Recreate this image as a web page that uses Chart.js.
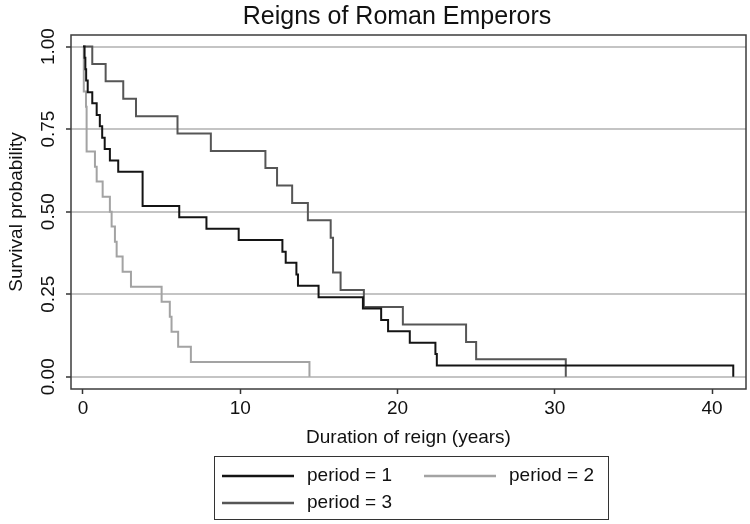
<!DOCTYPE html>
<html>
<head>
<meta charset="utf-8">
<title>Reigns of Roman Emperors</title>
<script src="https://cdn.jsdelivr.net/npm/chart.js@4.4.1/dist/chart.umd.min.js"></script>
<style>
  html, body { margin: 0; padding: 0; background: #fff; }
</style>
</head>
<body>
<canvas id="chart-reinados" width="750" height="524"></canvas>
<script>
const chartTitle = 'Reigns of Roman Emperors';
const xTitle = 'Duration of reign (years)';
const yTitle = 'Survival probability';

const xTicks = [0, 10, 20, 30, 40];
const yTicks = [0, 0.25, 0.5, 0.75, 1];
const yTickLabels = ['0.00', '0.25', '0.50', '0.75', '1.00'];

const seriesNames = ['period = 1', 'period = 2', 'period = 3'];
const seriesColors = ['#141414', '#a3a3a3', '#565656'];

// Kaplan-Meier steps: time of each drop and level after it
const period1Years = [0, 0.1, 0.15, 0.2, 0.3, 0.59, 0.87, 1.07, 1.22, 1.38, 1.71, 2.24, 3.79, 6.12, 7.85, 9.9, 12.68, 12.89, 13.57, 13.67, 14.98, 17.8, 18.96, 19.4, 20.78, 22.41, 22.5, 41.35];
const period1Surv  = [1, 0.966, 0.931, 0.897, 0.862, 0.828, 0.793, 0.759, 0.724, 0.690, 0.655, 0.621, 0.517, 0.483, 0.448, 0.414, 0.379, 0.345, 0.310, 0.276, 0.241, 0.207, 0.172, 0.138, 0.103, 0.069, 0.034, 0];

const period2Years = [0, 0.05, 0.19, 0.23, 0.76, 0.87, 1.25, 1.71, 1.82, 2.03, 2.14, 2.52, 3.05, 5.0, 5.52, 5.63, 6.05, 6.86, 14.4];
const period2Surv  = [1, 0.864, 0.818, 0.682, 0.636, 0.591, 0.545, 0.5, 0.455, 0.409, 0.364, 0.318, 0.273, 0.227, 0.182, 0.136, 0.091, 0.045, 0];

const period3Years = [0, 0.59, 1.44, 2.56, 3.37, 6.01, 8.13, 11.6, 12.34, 13.3, 14.3, 15.75, 15.9, 16.38, 17.86, 20.34, 24.36, 25.0, 30.7];
const period3Surv  = [1, 0.947, 0.895, 0.842, 0.789, 0.737, 0.684, 0.632, 0.579, 0.526, 0.474, 0.421, 0.316, 0.263, 0.211, 0.158, 0.105, 0.053, 0];

const FONT = '"Liberation Sans", Arial, Helvetica, sans-serif';
Chart.defaults.font.family = FONT;
Chart.defaults.color = '#111';

function toPoints(years, surv) {
  return years.map((t, i) => ({ x: t, y: surv[i] }));
}

// frame, title, rotated y labels and boxed legend
const extras = {
  id: 'extras',
  afterDraw(chart) {
    const { ctx, chartArea: a, scales } = chart;
    ctx.save();

    ctx.strokeStyle = '#3c3c3c';
    ctx.lineWidth = 1.5;
    ctx.strokeRect(a.left, a.top, a.right - a.left, a.bottom - a.top);

    ctx.fillStyle = '#111';
    ctx.textAlign = 'center';
    ctx.textBaseline = 'middle';
    ctx.font = '25px ' + FONT;
    ctx.fillText(chartTitle, 397, 17);

    ctx.font = '19px ' + FONT;
    yTicks.forEach((v, i) => {
      const y = scales.y.getPixelForValue(v);
      ctx.save();
      ctx.translate(49, y);
      ctx.rotate(-Math.PI / 2);
      ctx.fillText(yTickLabels[i], 0, 0);
      ctx.restore();
    });

    // legend
    ctx.strokeStyle = '#333';
    ctx.lineWidth = 1;
    ctx.strokeRect(214.5, 456.5, 394, 63);
    const colX = [222, 424];
    const rowY = [476, 503];
    ctx.textAlign = 'left';
    chart.data.datasets.forEach((ds, i) => {
      const x = colX[i % 2];
      const y = rowY[Math.floor(i / 2)];
      ctx.strokeStyle = ds.borderColor;
      ctx.lineWidth = 2.5;
      ctx.beginPath();
      ctx.moveTo(x, y);
      ctx.lineTo(x + 72, y);
      ctx.stroke();
      ctx.fillStyle = '#111';
      ctx.fillText(ds.label, x + 85, y);
    });

    ctx.restore();
  }
};

const ctx = document.getElementById('chart-reinados').getContext('2d');

new Chart(ctx, {
  type: 'line',
  data: {
    datasets: [
      { label: seriesNames[0], data: toPoints(period1Years, period1Surv), borderColor: seriesColors[0] },
      { label: seriesNames[1], data: toPoints(period2Years, period2Surv), borderColor: seriesColors[1] },
      { label: seriesNames[2], data: toPoints(period3Years, period3Surv), borderColor: seriesColors[2] }
    ]
  },
  options: {
    responsive: false,
    animation: false,
    layout: { padding: { top: 35, left: 0, right: 4, bottom: 75 } },
    elements: {
      line: { borderWidth: 2, stepped: true, tension: 0, fill: false },
      point: { radius: 0, hoverRadius: 0 }
    },
    plugins: {
      legend: { display: false },
      title: { display: false },
      tooltip: { enabled: false }
    },
    scales: {
      x: {
        type: 'linear',
        min: -0.763,
        max: 42.16,
        afterBuildTicks: (scale) => { scale.ticks = xTicks.map(v => ({ value: v })); },
        afterFit: (scale) => { scale.height = 60; },
        border: { display: false },
        grid: { drawOnChartArea: false, drawTicks: true, tickLength: 5, tickColor: '#333', tickWidth: 1.5 },
        ticks: { font: { size: 19 }, color: '#111', padding: 3, maxRotation: 0 },
        title: { display: true, text: xTitle, font: { size: 19 }, color: '#111', padding: { top: 0, bottom: 0 } }
      },
      y: {
        type: 'linear',
        min: -0.037,
        max: 1.035,
        afterBuildTicks: (scale) => { scale.ticks = yTicks.map(v => ({ value: v })); },
        afterFit: (scale) => { scale.width = 71; },
        border: { display: false },
        grid: { color: '#c4c4c4', lineWidth: 2, drawTicks: true, tickLength: 5, tickColor: '#333', tickWidth: 1.5 },
        ticks: { display: false },
        title: { display: true, text: yTitle, font: { size: 19 }, color: '#111', padding: { top: 5, bottom: 0 } }
      }
    }
  },
  plugins: [extras]
});
</script>
</body>
</html>
